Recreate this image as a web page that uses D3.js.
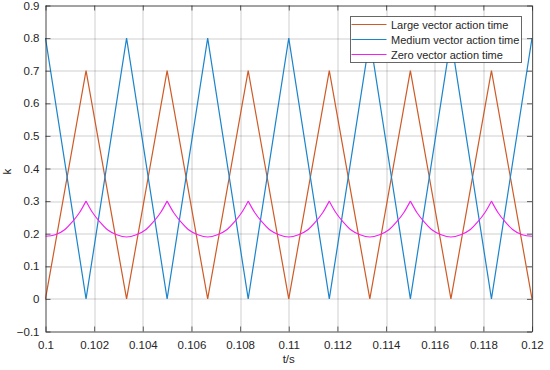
<!DOCTYPE html>
<html>
<head>
<meta charset="utf-8">
<script src="https://cdn.jsdelivr.net/npm/d3@7"></script>
<style>
    body { margin: 0; background: #fff; }
    text { font-family: "Liberation Sans", Arial, sans-serif; fill: #262626; }
</style>
</head>
<body>
<svg id="chart" width="550" height="370"></svg>
<script>
"use strict";

// data
const xTicks = [0.1, 0.102, 0.104, 0.106, 0.108, 0.11, 0.112, 0.114, 0.116, 0.118, 0.12];
const yTicks = [-0.1, 0, 0.1, 0.2, 0.3, 0.4, 0.5, 0.6, 0.7, 0.8, 0.9];

const largeT = [0.1, 0.101667, 0.103333, 0.105, 0.106667, 0.108333, 0.11, 0.111667, 0.113333, 0.115, 0.116667, 0.118333, 0.12];
const largeK = [0, 0.7, 0, 0.7, 0, 0.7, 0, 0.7, 0, 0.7, 0, 0.7, 0];

const mediumT = [0.1, 0.101667, 0.103333, 0.105, 0.106667, 0.108333, 0.11, 0.111667, 0.113333, 0.115, 0.116667, 0.118333, 0.12];
const mediumK = [0.8, 0, 0.8, 0, 0.8, 0, 0.8, 0, 0.8, 0, 0.8, 0, 0.8];

const zeroT = [
    0.1, 0.1004, 0.1008, 0.1011, 0.1014, 0.101667,
    0.101933, 0.102233, 0.102533, 0.102933, 0.103333, 0.103733, 0.104133, 0.104433, 0.104733, 0.105,
    0.105267, 0.105567, 0.105867, 0.106267, 0.106667, 0.107067, 0.107467, 0.107767, 0.108067, 0.108333,
    0.1086, 0.1089, 0.1092, 0.1096, 0.11, 0.1104, 0.1108, 0.1111, 0.1114, 0.111667,
    0.111933, 0.112233, 0.112533, 0.112933, 0.113333, 0.113733, 0.114133, 0.114433, 0.114733, 0.115,
    0.115267, 0.115567, 0.115867, 0.116267, 0.116667, 0.117067, 0.117467, 0.117767, 0.118067, 0.118333,
    0.1186, 0.1189, 0.1192, 0.1196, 0.12
];
const zeroK = [
    0.192, 0.197, 0.213, 0.236, 0.265, 0.3,
    0.265, 0.236, 0.213, 0.197, 0.19, 0.197, 0.213, 0.236, 0.265, 0.3,
    0.265, 0.236, 0.213, 0.197, 0.19, 0.197, 0.213, 0.236, 0.265, 0.3,
    0.265, 0.236, 0.213, 0.197, 0.19, 0.197, 0.213, 0.236, 0.265, 0.3,
    0.265, 0.236, 0.213, 0.197, 0.19, 0.197, 0.213, 0.236, 0.265, 0.3,
    0.265, 0.236, 0.213, 0.197, 0.19, 0.197, 0.213, 0.236, 0.265, 0.3,
    0.265, 0.236, 0.213, 0.197, 0.192
];

const seriesNames = ["Large vector action time", "Medium vector action time", "Zero vector action time"];
const seriesColors = ["#cf5a26", "#1a84cc", "#f21ef2"];



// setting
const margin = {left: 45.5, right: 18, top: 5.5, bottom: 38.5};
const width = 550 - margin.left - margin.right,
      height = 370 - margin.top - margin.bottom;

let svg = d3.select("#chart");
let chart = svg.append("g")
.attr("transform", `translate(${margin.left}, ${margin.top})`);



// scales
let scaleX = d3.scaleLinear().domain([0.1, 0.12]).range([0, width]);
let scaleY = d3.scaleLinear().domain([-0.1, 0.9]).range([height, 0]);



// grid
let grid = chart.append("g").attr("class", "grid");

grid.selectAll("line.gx")
.data(xTicks)
.join("line")
.attr("class", "gx")
.attr("x1", d => Math.round(scaleX(d)) + 0.5)
.attr("x2", d => Math.round(scaleX(d)) + 0.5)
.attr("y1", 0)
.attr("y2", height)
.attr("stroke", "#262626")
.attr("stroke-opacity", 0.22);

grid.selectAll("line.gy")
.data(yTicks)
.join("line")
.attr("class", "gy")
.attr("x1", 0)
.attr("x2", width)
.attr("y1", d => Math.round(scaleY(d)) + 0.5)
.attr("y2", d => Math.round(scaleY(d)) + 0.5)
.attr("stroke", "#262626")
.attr("stroke-opacity", 0.22);



// lines
let line = d3.line()
.x(d => scaleX(d[0]))
.y(d => scaleY(d[1]));

chart.append("path")
.datum(largeT.map((t, i) => [t, largeK[i]]))
.attr("d", line)
.attr("fill", "none")
.attr("stroke", seriesColors[0])
.attr("stroke-width", 1.2);

chart.append("path")
.datum(mediumT.map((t, i) => [t, mediumK[i]]))
.attr("d", line)
.attr("fill", "none")
.attr("stroke", seriesColors[1])
.attr("stroke-width", 1.2);

// zero vector: smooth arcs, split at the peaks so the cusps stay sharp
let zeroPts = zeroT.map((t, i) => [t, zeroK[i]]);
let arcs = [[]];
zeroPts.forEach((p, i) => {
    arcs[arcs.length - 1].push(p);
    let isPeak = i > 0 && i < zeroPts.length - 1 && p[1] > zeroPts[i - 1][1] && p[1] > zeroPts[i + 1][1];
    if (isPeak) arcs.push([p]);
});
let smooth = d3.line()
.x(d => scaleX(d[0]))
.y(d => scaleY(d[1]))
.curve(d3.curveMonotoneX);

chart.append("g")
.selectAll("path")
.data(arcs)
.join("path")
.attr("d", smooth)
.attr("fill", "none")
.attr("stroke", seriesColors[2])
.attr("stroke-width", 1.1);



// axes (box with inward ticks)
let axisCol = "#262626";
chart.append("g")
.attr("transform", `translate(0, ${height})`)
.call(d3.axisBottom(scaleX).tickValues(xTicks).tickSizeInner(-5).tickSizeOuter(0).tickPadding(9).tickFormat(d3.format("")));

chart.append("g")
.call(d3.axisLeft(scaleY).tickValues(yTicks).tickSizeInner(-5).tickSizeOuter(0).tickPadding(6).tickFormat(d => d === 0 ? "0" : d3.format(".1f")(d)));

chart.append("g")
.call(d3.axisTop(scaleX).tickValues(xTicks).tickSizeInner(-5).tickSizeOuter(0).tickFormat(""));
chart.append("g")
.attr("transform", `translate(${width}, 0)`)
.call(d3.axisRight(scaleY).tickValues(yTicks).tickSizeInner(-5).tickSizeOuter(0).tickFormat(""));

chart.selectAll(".domain").attr("stroke", axisCol).attr("stroke-opacity", 0.7);
chart.selectAll(".tick line").attr("stroke", axisCol).attr("stroke-opacity", 0.7);
chart.selectAll(".tick text")
.attr("font-family", "Liberation Sans, Arial, sans-serif")
.attr("font-size", 11.5)
.attr("fill", axisCol);



// axis labels
chart.append("text")
.attr("x", width / 2)
.attr("y", height + 31)
.attr("text-anchor", "middle")
.attr("font-size", 11.5)
.text("t/s");

chart.append("text")
.attr("transform", `translate(${-35}, ${height / 2 + 3}) rotate(-90)`)
.attr("text-anchor", "middle")
.attr("font-size", 11.5)
.text("k");



// legend
let legend = svg.append("g")
.attr("class", "legend")
.attr("transform", "translate(350.5, 16.5)");

legend.append("rect")
.attr("width", 171)
.attr("height", 46)
.attr("fill", "#fff")
.attr("stroke", axisCol)
.attr("stroke-opacity", 0.7);

seriesNames.forEach((name, i) => {
    let y = 8 + i * 15;
    legend.append("line")
    .attr("x1", 1)
    .attr("x2", 36)
    .attr("y1", y)
    .attr("y2", y)
    .attr("stroke", seriesColors[i])
    .attr("stroke-width", 1.2);
    legend.append("text")
    .attr("x", 40.5)
    .attr("y", y + 4)
    .attr("font-size", 11)
    .text(name);
});
</script>
</body>
</html>
